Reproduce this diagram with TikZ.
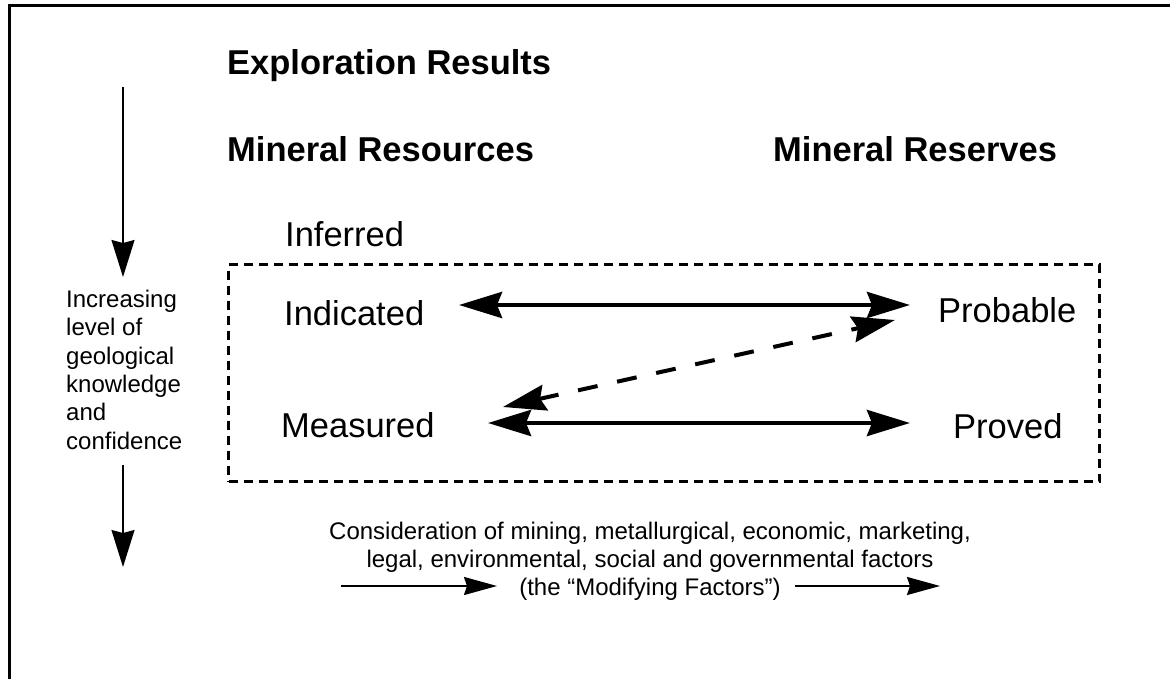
\documentclass[tikz,border=0pt]{standalone}
\usepackage{fontspec}
\setmainfont{Liberation Sans}
\usetikzlibrary{arrows.meta}
\begin{document}
\begin{tikzpicture}[x=1pt,y=-1pt,
  bigtext/.style={font=\fontsize{34.5}{40}\selectfont, inner sep=0pt, anchor=base west},
  titletext/.style={font=\fontsize{34.5}{40}\selectfont\bfseries, inner sep=0pt, anchor=base west},
  smalltext/.style={font=\fontsize{24}{28.3}\selectfont, inner sep=0pt},
  bottomtext/.style={font=\fontsize{24}{28}\selectfont, inner sep=0pt},
  dblarrow/.style={line width=4.5pt, {Stealth[length=43pt,width=26pt,inset=5pt]}-{Stealth[length=43pt,width=26pt,inset=5pt]}},
  dasharrow/.style={line width=4pt, dash pattern=on 20pt off 20pt, {Stealth[length=43pt,width=26pt,inset=5pt]}-{Stealth[length=43pt,width=26pt,inset=5pt]}},
  vertarrow/.style={line width=1.5pt, -{Stealth[length=37pt,width=23pt,inset=3pt]}},
  horarrow/.style={line width=2pt, -{Stealth[length=33pt,width=18pt,inset=3pt]}},
  boxframe/.style={draw, line width=3.2pt, dash pattern=on 9pt off 6pt, inner sep=0pt, anchor=north west}
]
\useasboundingbox (0,0) rectangle (1170,679);
% outer frame (cut at right and bottom)
\draw[line width=3pt] (9,679) -- (9,5.5) -- (1170,5.5);

% titles
\node[titletext] (expl) at (227,75) {Exploration Results};
\node[titletext] (mres) at (227,162) {Mineral Resources};
\node[titletext] (mrsv) at (773,162) {Mineral Reserves};

% dashed box
\node[boxframe, minimum width=871pt, minimum height=217pt] (box) at (227,263) {};

% categories
\node[bigtext] (inf) at (285,247) {Inferred};
\node[bigtext] (ind) at (284,325) {Indicated};
\node[bigtext] (mea) at (281,437) {Measured};
\node[bigtext] (pro) at (938,322) {Probable};
\node[bigtext] (prv) at (953,438) {Proved};

% arrows between categories
\coordinate (indR) at (459,305);
\coordinate (proL) at (910,305);
\coordinate (meaR) at (488,423);
\coordinate (prvL) at (910,423);
\coordinate (meaD) at (503,407);
\coordinate (proD) at (895,320);
\draw[dblarrow] (indR) -- (proL);
\draw[dblarrow] (meaR) -- (prvL);
\draw[dasharrow] (meaD) -- (proD);

% left side
\node[smalltext, align=left, anchor=base west] (conf) at (66,449)
  {Increasing\\level of\\geological\\knowledge\\and\\confidence};
\coordinate (vtopS) at (123,87);
\coordinate (vtopE) at (123,277);
\coordinate (vbotS) at (123,465);
\coordinate (vbotE) at (123,567);
\draw[vertarrow] (vtopS) -- (vtopE);
\draw[vertarrow] (vbotS) -- (vbotE);

% bottom text
\node[bottomtext, align=center, anchor=base] (mod) at (650,595)
  {Consideration of mining, metallurgical, economic, marketing,\\
   legal, environmental, social and governmental factors\\
   (the “Modifying Factors”)};
\coordinate (hlS) at (341,586);
\coordinate (hlE) at (497,586);
\coordinate (hrS) at (795,586);
\coordinate (hrE) at (940,586);
\draw[horarrow] (hlS) -- (hlE);
\draw[horarrow] (hrS) -- (hrE);
\end{tikzpicture}
\end{document}
